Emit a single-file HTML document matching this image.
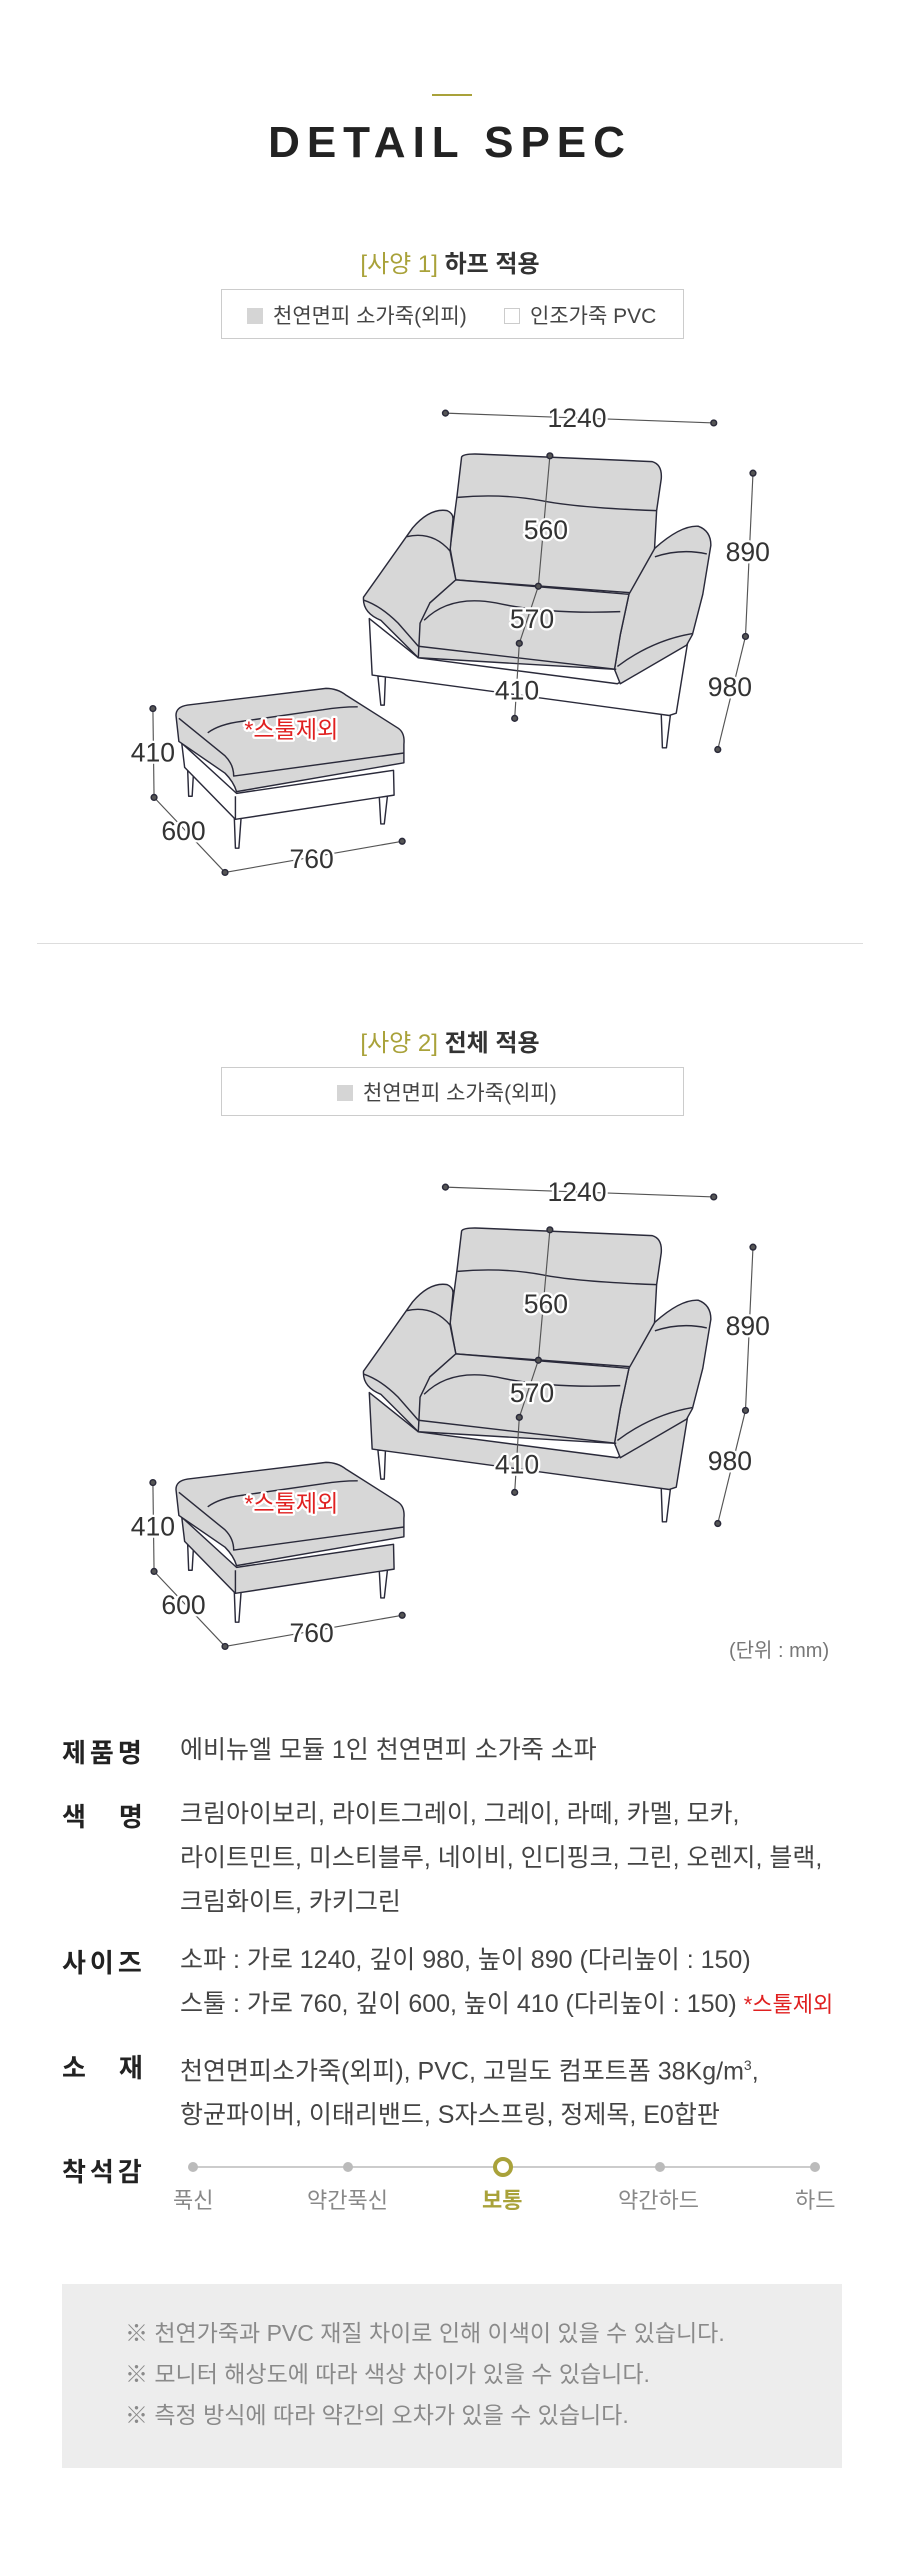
<!DOCTYPE html>
<html><head><meta charset="utf-8">
<style>
html,body{margin:0;padding:0;background:#fff;}
body{width:900px;height:2564px;position:relative;overflow:hidden;font-family:"Liberation Sans","Noto Sans CJK KR",sans-serif;color:#333;}
.a{position:absolute;white-space:nowrap;}
.lbl{position:absolute;left:62px;font-size:26px;font-weight:bold;color:#222;}
.val{position:absolute;left:180px;font-size:25px;color:#444;line-height:44px;}
.box{position:absolute;border:1px solid #ccc;box-sizing:border-box;}
.sq{display:inline-block;width:16px;height:16px;vertical-align:-1px;margin-right:10px;}
</style></head><body>
<div class="a" style="left:432px;top:94px;width:40px;height:2px;background:#a9a23a"></div>
<div class="a" style="left:0;width:900px;text-align:center;top:118px;font-size:44px;font-weight:bold;letter-spacing:7px;color:#222;">DETAIL SPEC</div>

<div class="a" style="left:0;width:900px;text-align:center;top:244px;font-size:24px;font-weight:bold;"><span style="color:#a9a23a;font-weight:normal">[사양 1]</span> 하프 적용</div>
<div class="box" style="left:221px;top:289px;width:463px;height:50px;"></div>
<div class="a" style="left:247px;top:300px;font-size:21px;color:#444;"><span class="sq" style="background:#d5d5d5"></span>천연면피 소가죽(외피)</div>
<div class="a" style="left:504px;top:300px;font-size:21px;color:#444;"><span class="sq" style="border:1px solid #ccc;box-sizing:border-box"></span>인조가죽 PVC</div>

<div class="a" style="left:37px;top:943px;width:826px;height:1px;background:#ddd"></div>

<div class="a" style="left:0;width:900px;text-align:center;top:1023px;font-size:24px;font-weight:bold;"><span style="color:#a9a23a;font-weight:normal">[사양 2]</span> 전체 적용</div>
<div class="box" style="left:221px;top:1067px;width:463px;height:49px;"></div>
<div class="a" style="left:337px;top:1077px;font-size:21px;color:#444;"><span class="sq" style="background:#d5d5d5"></span>천연면피 소가죽(외피)</div>
<div class="a" style="left:729px;top:1634px;font-size:20px;color:#777;">(단위 : mm)</div>

<svg class="a" style="left:0;top:0" width="900" height="2564" viewBox="0 0 900 2564">
<defs>
<g id="dims" fill="none">
 <g stroke="#555" stroke-width="2">
  <line x1="772" y1="716" x2="1237" y2="733"/>
  <line x1="1305" y1="820" x2="1292" y2="1103"/>
  <line x1="1292" y1="1103" x2="1244" y2="1299"/>
  <line x1="953" y1="790" x2="933" y2="1016"/>
  <line x1="933" y1="1016" x2="900" y2="1115"/>
  <line x1="900" y1="1115" x2="892" y2="1245"/>
  <line x1="265" y1="1228" x2="267" y2="1382"/>
  <line x1="267" y1="1382" x2="390" y2="1512"/>
  <line x1="390" y1="1512" x2="697" y2="1458"/>
 </g>
 <g fill="#555">
  <circle cx="772" cy="716" r="5"/><circle cx="1237" cy="733" r="5"/>
  <circle cx="1305" cy="820" r="5"/><circle cx="1292" cy="1103" r="5"/><circle cx="1244" cy="1299" r="5"/>
  <circle cx="953" cy="790" r="5"/><circle cx="933" cy="1016" r="5"/><circle cx="900" cy="1115" r="5"/><circle cx="892" cy="1245" r="5"/>
  <circle cx="265" cy="1228" r="5"/><circle cx="267" cy="1382" r="5"/><circle cx="390" cy="1512" r="5"/><circle cx="697" cy="1458" r="5"/>
 </g>
 <g font-family="Liberation Sans, sans-serif" font-size="46" text-anchor="middle" fill="#333" stroke="#fff" stroke-width="8" paint-order="stroke">
  <text x="1000" y="740">1240</text>
  <text x="1296" y="972">890</text>
  <text x="1265" y="1206">980</text>
  <text x="946" y="934">560</text>
  <text x="922" y="1088">570</text>
  <text x="896" y="1212">410</text>
  <text x="265" y="1320">410</text>
  <text x="318" y="1456">600</text>
  <text x="540" y="1504">760</text>
  <text x="505" y="1278" fill="#e02020" font-family="Liberation Sans, Noto Sans CJK KR, sans-serif" font-size="40">*스툴제외</text>
 </g>
</g>
</defs>
<g transform="scale(0.577)" stroke="#2a2a3a" stroke-width="2.5" stroke-linejoin="round">
 <path d="M655,1172 L660,1222 L666,1222 L668,1172Z" fill="#fff"/>
 <path d="M1146,1238 L1148,1296 L1155,1296 L1162,1238Z" fill="#fff"/>
 <path d="M640,1072 L645,1170 L1160,1240 L1172,1236 L1192,1112 L1070,1185 L725,1140 Z" fill="#fff"/>
 <path d="M800,792 Q803,786 830,787 L1130,800 Q1148,805 1146,830 L1138,885 L1130,1030 L790,1005 L780,950 L792,860 Z" fill="#d7d7d7"/>
 <path d="M793,862 Q870,855 940,868 Q1000,880 1138,885" fill="none"/>
 <path d="M630,1035 L715,915 Q745,880 775,885 Q786,890 785,900 L780,955 L790,1005 L745,1045 L725,1140 L660,1075 Q628,1062 630,1035Z" fill="#d7d7d7"/>
 <path d="M705,930 Q750,920 780,955" fill="none"/>
 <path d="M630,1040 Q660,1050 690,1080 L725,1120" fill="none"/>
 <path d="M1090,1030 L1135,950 Q1180,910 1210,912 Q1232,920 1232,945 L1218,1030 L1200,1100 L1190,1118 L1075,1185 L1065,1160 L1075,1100 Z" fill="#d7d7d7"/>
 <path d="M1135,965 Q1180,950 1225,960" fill="none"/>
 <path d="M1070,1155 Q1130,1110 1200,1098" fill="none"/>
 <path d="M790,1005 L1090,1030 L1075,1100 L1065,1160 L725,1140 L728,1080 L745,1045Z" fill="#d7d7d7"/>
 <path d="M735,1075 Q780,1030 860,1045 Q950,1065 1075,1060" fill="none"/>
 <path d="M725,1120 L1068,1160" fill="none"/>
 <path d="M325,1328 L327,1380 L333,1380 L336,1328Z" fill="#fff"/>
 <path d="M657,1375 L660,1428 L666,1428 L672,1375Z" fill="#fff"/>
 <path d="M406,1415 L408,1470 L414,1470 L418,1415Z" fill="#fff"/>
 <path d="M315,1288 L320,1330 L408,1420 L683,1378 L682,1335 L410,1375 Z" fill="#fff"/>
 <path d="M408,1380 L408,1420" fill="none"/>
 <path d="M305,1240 Q305,1225 325,1222 L565,1193 Q585,1193 600,1205 L690,1262 Q702,1270 700,1290 L700,1322 L410,1372 Q405,1355 390,1340 L310,1285 Z" fill="#d7d7d7"/>
 <path d="M360,1270 Q380,1255 420,1250 L560,1230 Q590,1225 620,1225" fill="none"/>
 <path d="M310,1245 L390,1310 Q405,1325 405,1345 L700,1305" fill="none"/>
 <use href="#dims"/>
</g>
<g transform="translate(0,774) scale(0.577)" stroke="#2a2a3a" stroke-width="2.5" stroke-linejoin="round">
 <path d="M655,1172 L660,1222 L666,1222 L668,1172Z" fill="#fff"/>
 <path d="M1146,1238 L1148,1296 L1155,1296 L1162,1238Z" fill="#fff"/>
 <path d="M640,1072 L645,1170 L1160,1240 L1172,1236 L1192,1112 L1070,1185 L725,1140 Z" fill="#d7d7d7"/>
 <path d="M800,792 Q803,786 830,787 L1130,800 Q1148,805 1146,830 L1138,885 L1130,1030 L790,1005 L780,950 L792,860 Z" fill="#d7d7d7"/>
 <path d="M793,862 Q870,855 940,868 Q1000,880 1138,885" fill="none"/>
 <path d="M630,1035 L715,915 Q745,880 775,885 Q786,890 785,900 L780,955 L790,1005 L745,1045 L725,1140 L660,1075 Q628,1062 630,1035Z" fill="#d7d7d7"/>
 <path d="M705,930 Q750,920 780,955" fill="none"/>
 <path d="M630,1040 Q660,1050 690,1080 L725,1120" fill="none"/>
 <path d="M1090,1030 L1135,950 Q1180,910 1210,912 Q1232,920 1232,945 L1218,1030 L1200,1100 L1190,1118 L1075,1185 L1065,1160 L1075,1100 Z" fill="#d7d7d7"/>
 <path d="M1135,965 Q1180,950 1225,960" fill="none"/>
 <path d="M1070,1155 Q1130,1110 1200,1098" fill="none"/>
 <path d="M790,1005 L1090,1030 L1075,1100 L1065,1160 L725,1140 L728,1080 L745,1045Z" fill="#d7d7d7"/>
 <path d="M735,1075 Q780,1030 860,1045 Q950,1065 1075,1060" fill="none"/>
 <path d="M725,1120 L1068,1160" fill="none"/>
 <path d="M325,1328 L327,1380 L333,1380 L336,1328Z" fill="#fff"/>
 <path d="M657,1375 L660,1428 L666,1428 L672,1375Z" fill="#fff"/>
 <path d="M406,1415 L408,1470 L414,1470 L418,1415Z" fill="#fff"/>
 <path d="M315,1288 L320,1330 L408,1420 L683,1378 L682,1335 L410,1375 Z" fill="#d7d7d7"/>
 <path d="M408,1380 L408,1420" fill="none"/>
 <path d="M305,1240 Q305,1225 325,1222 L565,1193 Q585,1193 600,1205 L690,1262 Q702,1270 700,1290 L700,1322 L410,1372 Q405,1355 390,1340 L310,1285 Z" fill="#d7d7d7"/>
 <path d="M360,1270 Q380,1255 420,1250 L560,1230 Q590,1225 620,1225" fill="none"/>
 <path d="M310,1245 L390,1310 Q405,1325 405,1345 L700,1305" fill="none"/>
 <use href="#dims"/>
</g>
<line x1="193" y1="2167" x2="815" y2="2167" stroke="#ccc" stroke-width="2"/>
<g fill="#bbb"><circle cx="193" cy="2167" r="5"/><circle cx="348" cy="2167" r="5"/><circle cx="660" cy="2167" r="5"/><circle cx="815" cy="2167" r="5"/></g>
<circle cx="503" cy="2167" r="8" fill="#fff" stroke="#a9a23a" stroke-width="4"/>
</svg>

<div class="lbl" style="top:1733px;letter-spacing:4px">제품명</div>
<div class="val" style="top:1728px">에비뉴엘 모듈 1인 천연면피 소가죽 소파</div>
<div class="lbl" style="top:1797px">색<span style="display:inline-block;width:33px"></span>명</div>
<div class="val" style="top:1792px">크림아이보리, 라이트그레이, 그레이, 라떼, 카멜, 모카,<br>라이트민트, 미스티블루, 네이비, 인디핑크, 그린, 오렌지, 블랙,<br>크림화이트, 카키그린</div>
<div class="lbl" style="top:1943px;letter-spacing:4px">사이즈</div>
<div class="val" style="top:1938px">소파 : 가로 1240, 깊이 980, 높이 890 (다리높이 : 150)<br>스툴 : 가로 760, 깊이 600, 높이 410 (다리높이 : 150) <span style="color:#e02020;font-size:22px">*스툴제외</span></div>
<div class="lbl" style="top:2048px">소<span style="display:inline-block;width:33px"></span>재</div>
<div class="val" style="top:2043px">천연면피소가죽(외피), PVC, 고밀도 컴포트폼 38Kg/m<sup style="font-size:14px">3</sup>,<br>항균파이버, 이태리밴드, S자스프링, 정제목, E0합판</div>
<div class="lbl" style="top:2152px;letter-spacing:4px">착석감</div>
<div class="a" style="top:2183px;left:173px;font-size:22px;color:#888">푹신</div>
<div class="a" style="top:2183px;left:307px;font-size:22px;color:#888">약간푹신</div>
<div class="a" style="top:2183px;left:482px;font-size:22px;color:#a9a23a;font-weight:bold">보통</div>
<div class="a" style="top:2183px;left:618px;font-size:22px;color:#888">약간하드</div>
<div class="a" style="top:2183px;left:795px;font-size:22px;color:#888">하드</div>

<div class="a" style="left:62px;top:2284px;width:780px;height:184px;background:#ededed"></div>
<div class="a" style="left:125px;top:2313px;font-size:23px;color:#8a8a8a;line-height:41px">※ 천연가죽과 PVC 재질 차이로 인해 이색이 있을 수 있습니다.<br>※ 모니터 해상도에 따라 색상 차이가 있을 수 있습니다.<br>※ 측정 방식에 따라 약간의 오차가 있을 수 있습니다.</div>
</body></html>
